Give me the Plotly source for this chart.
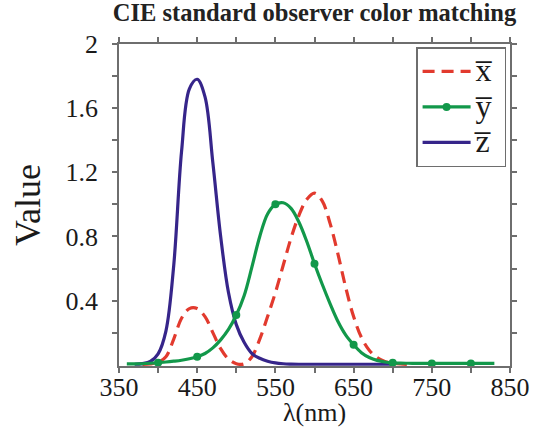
import plotly.graph_objects as go

# ---- data ----
x_nm = [380, 390, 400, 410, 420, 430, 440, 450, 460, 470, 480, 490, 500, 510, 520,
        530, 540, 550, 560, 570, 580, 590, 600, 610, 620, 630, 640, 650, 660, 670,
        680, 690, 700, 710, 720]
x_bar = [0.002, 0.005, 0.016, 0.05, 0.16, 0.29, 0.35, 0.35, 0.30, 0.20, 0.10, 0.035,
         0.006, 0.005, 0.05, 0.16, 0.30, 0.45, 0.62, 0.79, 0.93, 1.03, 1.07, 1.02,
         0.88, 0.69, 0.48, 0.30, 0.17, 0.09, 0.045, 0.02, 0.01, 0.005, 0.002]

y_nm = [360, 370, 380, 390, 400, 410, 420, 430, 440, 450, 460, 470, 480, 490, 500,
        510, 520, 530, 540, 550, 560, 570, 580, 590, 600, 610, 620, 630, 640, 650,
        660, 670, 680, 690, 700, 710, 720, 730, 740, 750, 760, 770, 780, 790, 800,
        810, 820, 830]
y_bar = [0.005, 0.005, 0.006, 0.009, 0.013, 0.017, 0.022, 0.028, 0.037, 0.05, 0.07,
         0.105, 0.155, 0.22, 0.31, 0.43, 0.61, 0.80, 0.94, 1.0, 1.01, 0.975, 0.89,
         0.77, 0.63, 0.50, 0.38, 0.27, 0.185, 0.125, 0.075, 0.045, 0.027, 0.017,
         0.012, 0.01, 0.009, 0.008, 0.008, 0.008, 0.008, 0.008, 0.008, 0.008, 0.008,
         0.008, 0.008, 0.008]
y_marker_nm = [400, 450, 500, 550, 600, 650, 700, 750, 800]

z_nm = [370, 380, 390, 400, 410, 420, 430, 440, 450, 460, 470, 480, 490, 500, 510,
        520, 530, 540, 550, 560, 570, 580, 590, 600, 620, 650, 700]
z_bar = [0.003, 0.007, 0.02, 0.068, 0.21, 0.62, 1.33, 1.72, 1.78, 1.67, 1.26, 0.80,
         0.45, 0.25, 0.14, 0.07, 0.04, 0.022, 0.011, 0.006, 0.004, 0.003, 0.003,
         0.003, 0.003, 0.003, 0.003]

x_ticks = [350, 400, 450, 500, 550, 600, 650, 700, 750, 800, 850]
x_tick_labels = ["350", "", "450", "", "550", "", "650", "", "750", "", "850"]
y_ticks = [0.2, 0.4, 0.6, 0.8, 1.0, 1.2, 1.4, 1.6, 1.8, 2.0]
y_tick_labels = ["", "0.4", "", "0.8", "", "1.2", "", "1.6", "", "2"]
legend_names = ["x\u0305", "y\u0305", "z\u0305"]

RED = "#E23A2E"
GREEN = "#12984A"
BLUE = "#36258A"
AXIS = "#6E6E6E"
SERIF = "Liberation Serif, Times New Roman, serif"


def big(name):
    return '<span style="font-size:32px">' + name + "</span>\u00a0"


y_lookup = dict(zip(y_nm, y_bar))
y_marker_val = [y_lookup[w] for w in y_marker_nm]

fig = go.Figure()
fig.add_trace(go.Scatter(x=x_nm, y=x_bar, mode="lines", name=big(legend_names[0]),
                         line=dict(color=RED, width=3.2, dash="12px,7px", shape="spline"),
                         legendrank=1))
fig.add_trace(go.Scatter(x=z_nm, y=z_bar, mode="lines", name=big(legend_names[2]),
                         line=dict(color=BLUE, width=3.2, shape="spline"),
                         legendrank=3))
fig.add_trace(go.Scatter(x=y_nm, y=y_bar, mode="lines", showlegend=False,
                         line=dict(color=GREEN, width=3.2, shape="spline")))
fig.add_trace(go.Scatter(x=y_marker_nm, y=y_marker_val, mode="markers", showlegend=False,
                         marker=dict(color=GREEN, size=8)))
fig.add_trace(go.Scatter(x=[None], y=[None], mode="lines+markers", name=big(legend_names[1]),
                         line=dict(color=GREEN, width=3.2),
                         marker=dict(color=GREEN, size=8), legendrank=2))

axis_common = dict(showline=True, linecolor=AXIS, linewidth=1.5, mirror="ticks",
                   ticks="outside", ticklen=5, tickcolor=AXIS, tickwidth=1.5,
                   showgrid=False, zeroline=False, automargin=False,
                   tickfont=dict(family=SERIF, size=26, color="#1a1a1a"))

fig.update_layout(
    width=536, height=427,
    margin=dict(l=119, r=26, t=44, b=61, autoexpand=False),
    paper_bgcolor="white", plot_bgcolor="white",
    title=dict(text="<b>CIE standard observer color matching</b>",
               font=dict(family=SERIF, size=24.5, color="#222"),
               x=0.5, xref="paper", xanchor="center",
               y=0.99, yref="container", yanchor="top"),
    xaxis=dict(range=[350, 850], tickmode="array", tickvals=x_ticks,
               ticktext=x_tick_labels, ticklabelstandoff=-8,
               title=dict(text="λ(nm)", font=dict(family=SERIF, size=26, color="#1a1a1a"),
                          standoff=6),
               **axis_common),
    yaxis=dict(range=[-0.008, 2], tickmode="array", tickvals=y_ticks,
               ticktext=y_tick_labels, ticklabelstandoff=9,
               title=dict(text="Value", font=dict(family=SERIF, size=36, color="#1a1a1a"),
                          standoff=14),
               **axis_common),
    legend=dict(x=0.99, y=0.99, xanchor="right", yanchor="top",
                bordercolor=AXIS, borderwidth=1.5, bgcolor="white",
                font=dict(family=SERIF, size=25, color="#1a1a1a"),
                itemwidth=48, tracegroupgap=0, traceorder="normal"),
    showlegend=True,
)

fig.write_html("out.html", config={"displayModeBar": False},
               post_script="document.body.style.margin='0px';")
